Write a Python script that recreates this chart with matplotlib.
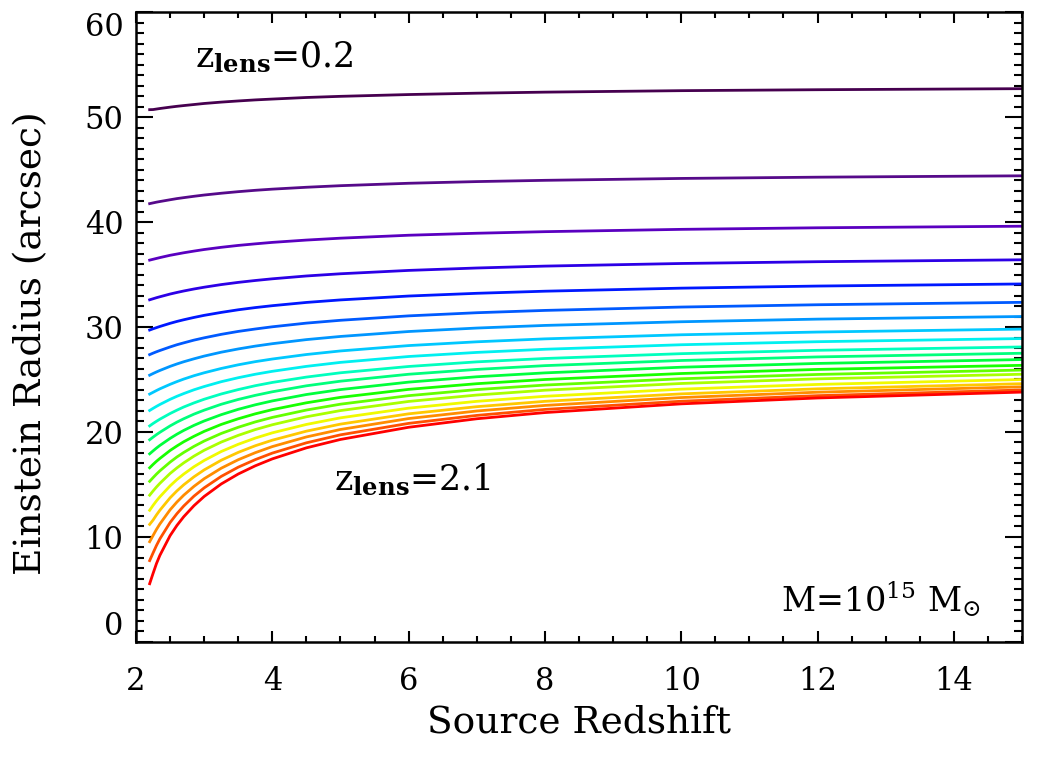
import numpy as np
import matplotlib
matplotlib.use("Agg")
import matplotlib.pyplot as plt

z_source = [2.2, 2.25, 2.3, 2.35, 2.5, 2.6, 2.7, 2.85, 3.0, 3.25, 3.5, 3.75,
            4.0, 4.5, 5.0, 6.0, 7.0, 8.0, 10.0, 12.0, 15.0]

# lens redshifts 0.2 ... 2.1 (one curve each)
z_lens = [0.2, 0.3, 0.4, 0.5, 0.6, 0.7, 0.8, 0.9, 1.0, 1.1,
          1.2, 1.3, 1.4, 1.5, 1.6, 1.7, 1.8, 1.9, 2.0, 2.1]

# Einstein radius (arcsec): one list per source redshift, one value per lens
theta_zs_2p20 = [50.70, 41.75, 36.37, 32.59, 29.71, 27.37, 25.41, 23.61, 22.05, 20.58,
                 19.26, 17.92, 16.59, 15.30, 13.98, 12.54, 11.20, 9.55, 7.75, 5.55]
theta_zs_2p25 = [50.71, 41.82, 36.45, 32.69, 29.83, 27.51, 25.57, 23.78, 22.25, 20.81,
                 19.51, 18.20, 16.91, 15.65, 14.38, 13.01, 11.61, 10.14, 8.48, 6.53]
theta_zs_2p30 = [50.76, 41.89, 36.53, 32.79, 29.94, 27.64, 25.72, 23.95, 22.44, 21.02,
                 19.75, 18.47, 17.21, 15.99, 14.76, 13.44, 12.10, 10.72, 9.19, 7.47]
theta_zs_2p35 = [50.81, 41.95, 36.61, 32.88, 30.05, 27.76, 25.86, 24.11, 22.62, 21.22,
                 19.97, 18.72, 17.48, 16.30, 15.11, 13.83, 12.55, 11.24, 9.82, 8.25]
theta_zs_2p50 = [50.94, 42.12, 36.83, 33.14, 30.35, 28.10, 26.25, 24.54, 23.11, 21.76,
                 20.58, 19.39, 18.24, 17.13, 16.05, 14.87, 13.73, 12.59, 11.38, 10.13]
theta_zs_2p60 = [51.02, 42.23, 36.95, 33.29, 30.53, 28.31, 26.48, 24.80, 23.40, 22.08,
                 20.94, 19.79, 18.67, 17.62, 16.58, 15.47, 14.39, 13.33, 12.22, 11.10]
theta_zs_2p70 = [51.09, 42.32, 37.07, 33.43, 30.69, 28.49, 26.69, 25.04, 23.66, 22.38,
                 21.26, 20.15, 19.07, 18.05, 17.06, 15.99, 14.97, 13.98, 12.95, 11.93]
theta_zs_2p85 = [51.19, 42.45, 37.23, 33.62, 30.91, 28.75, 26.97, 25.36, 24.02, 22.77,
                 21.70, 20.63, 19.59, 18.63, 17.70, 16.69, 15.73, 14.82, 13.89, 12.98]
theta_zs_3 = [51.29, 42.57, 37.38, 33.79, 31.11, 28.97, 27.23, 25.64, 24.33, 23.12,
              22.08, 21.05, 20.06, 19.14, 18.26, 17.29, 16.39, 15.55, 14.68, 13.86]
theta_zs_3p25 = [51.42, 42.74, 37.59, 34.04, 31.39, 29.30, 27.60, 26.05, 24.79, 23.62,
                 22.64, 21.65, 20.72, 19.86, 19.04, 18.14, 17.31, 16.55, 15.77, 15.05]
theta_zs_3p5 = [51.53, 42.89, 37.77, 34.25, 31.64, 29.58, 27.91, 26.40, 25.17, 24.04,
                23.10, 22.16, 21.26, 20.45, 19.68, 18.83, 18.06, 17.36, 16.65, 16.00]
theta_zs_3p75 = [51.63, 43.02, 37.92, 34.43, 31.85, 29.81, 28.18, 26.70, 25.50, 24.41,
                 23.49, 22.59, 21.73, 20.96, 20.23, 19.42, 18.69, 18.03, 17.37, 16.78]
theta_zs_4 = [51.71, 43.13, 38.06, 34.59, 32.03, 30.02, 28.41, 26.95, 25.78, 24.72,
              23.83, 22.96, 22.13, 21.39, 20.69, 19.92, 19.22, 18.61, 17.99, 17.44]
theta_zs_4p5 = [51.86, 43.31, 38.28, 34.86, 32.34, 30.37, 28.80, 27.38, 26.25, 25.23,
                24.40, 23.57, 22.78, 22.09, 21.45, 20.72, 20.08, 19.53, 18.97, 18.49]
theta_zs_5 = [51.97, 43.46, 38.46, 35.07, 32.58, 30.64, 29.10, 27.72, 26.63, 25.64,
              24.84, 24.04, 23.30, 22.65, 22.04, 21.35, 20.75, 20.24, 19.73, 19.29]
theta_zs_6 = [52.14, 43.69, 38.74, 35.39, 32.95, 31.06, 29.57, 28.23, 27.19, 26.24,
              25.50, 24.75, 24.06, 23.46, 22.91, 22.27, 21.73, 21.28, 20.82, 20.45]
theta_zs_7 = [52.27, 43.85, 38.93, 35.62, 33.21, 31.36, 29.90, 28.59, 27.58, 26.68,
              25.96, 25.26, 24.60, 24.04, 23.52, 22.92, 22.41, 22.00, 21.58, 21.26]
theta_zs_8 = [52.37, 43.97, 39.08, 35.80, 33.41, 31.58, 30.15, 28.87, 27.88, 27.00,
              26.32, 25.63, 25.00, 24.47, 23.98, 23.40, 22.92, 22.53, 22.15, 21.85]
theta_zs_10 = [52.51, 44.15, 39.30, 36.05, 33.70, 31.90, 30.50, 29.26, 28.31, 27.46,
               26.81, 26.17, 25.57, 25.07, 24.62, 24.08, 23.63, 23.28, 22.93, 22.68]
theta_zs_12 = [52.60, 44.27, 39.45, 36.22, 33.90, 32.12, 30.75, 29.52, 28.60, 27.78,
               27.15, 26.53, 25.96, 25.48, 25.06, 24.53, 24.11, 23.79, 23.46, 23.24]
theta_zs_15 = [52.70, 44.40, 39.60, 36.40, 34.10, 32.35, 31.00, 29.80, 28.90, 28.10,
               27.50, 26.90, 26.35, 25.90, 25.50, 25.00, 24.60, 24.30, 24.00, 23.80]

theta = np.column_stack([theta_zs_2p20, theta_zs_2p25, theta_zs_2p30, theta_zs_2p35,
                         theta_zs_2p50, theta_zs_2p60, theta_zs_2p70, theta_zs_2p85,
                         theta_zs_3, theta_zs_3p25, theta_zs_3p5, theta_zs_3p75,
                         theta_zs_4, theta_zs_4p5, theta_zs_5, theta_zs_6, theta_zs_7,
                         theta_zs_8, theta_zs_10, theta_zs_12, theta_zs_15])

colors = ['#46004f', '#560a8a', '#5a00c0', '#2c00e6', '#0018ff', '#005aff',
          '#0096ff', '#00c8ff', '#00f0f0', '#00ffbe', '#00ff7c', '#00ff3c',
          '#18ff00', '#64ff00', '#aaff00', '#f0fa00', '#ffc800', '#ff8c00',
          '#ff5000', '#ff0000']

plt.rcParams['font.family'] = 'DejaVu Serif'
plt.rcParams['mathtext.fontset'] = 'dejavuserif'

fig = plt.figure(figsize=(10.52, 7.61), dpi=100)
ax = fig.add_axes([0.1293, 0.1564, 0.8422, 0.8278])

for i in range(len(z_lens)):
    ax.plot(z_source, theta[i], color=colors[i], lw=2.0, solid_joinstyle='round')

ax.set_xlim(2, 15)
ax.set_ylim(0, 60)
ax.set_xticks(np.arange(2, 15, 2))
ax.set_xticks(np.arange(2, 15.01, 0.5), minor=True)
ax.set_yticks(np.arange(0, 61, 10))
ax.set_yticks(np.arange(0, 61, 1), minor=True)

for s in ax.spines.values():
    s.set_linewidth(1.8)
ax.tick_params(which='both', direction='in', top=True, right=True, width=1.5)
ax.tick_params(axis='x', which='major', length=8, pad=17, labelsize=22)
ax.tick_params(axis='x', which='minor', length=4)
ax.tick_params(axis='y', which='major', length=12, pad=9, labelsize=22)
ax.tick_params(axis='y', which='minor', length=6)

# IDL-style: end labels pulled inside the axis range
yt = ax.yaxis.get_major_ticks()
yt[0].label1.set_va('bottom')
yt[-1].label1.set_va('top')

ax.set_xlabel('Source Redshift', fontsize=27)
ax.set_ylabel('Einstein Radius (arcsec)', fontsize=27)
ax.xaxis.set_label_coords(0.5, -0.10)
ax.yaxis.set_label_coords(-0.098, 0.475)

ax.text(2.86, 54.7, r'z$_{\mathbf{lens}}$=0.2', fontsize=25)
ax.text(4.9, 14.45, r'z$_{\mathbf{lens}}$=2.1', fontsize=25)
ax.text(11.47, 2.9, r'M=10$^{15}$ M$_{\odot}$', fontsize=24)

fig.savefig('out.png', dpi=100)
